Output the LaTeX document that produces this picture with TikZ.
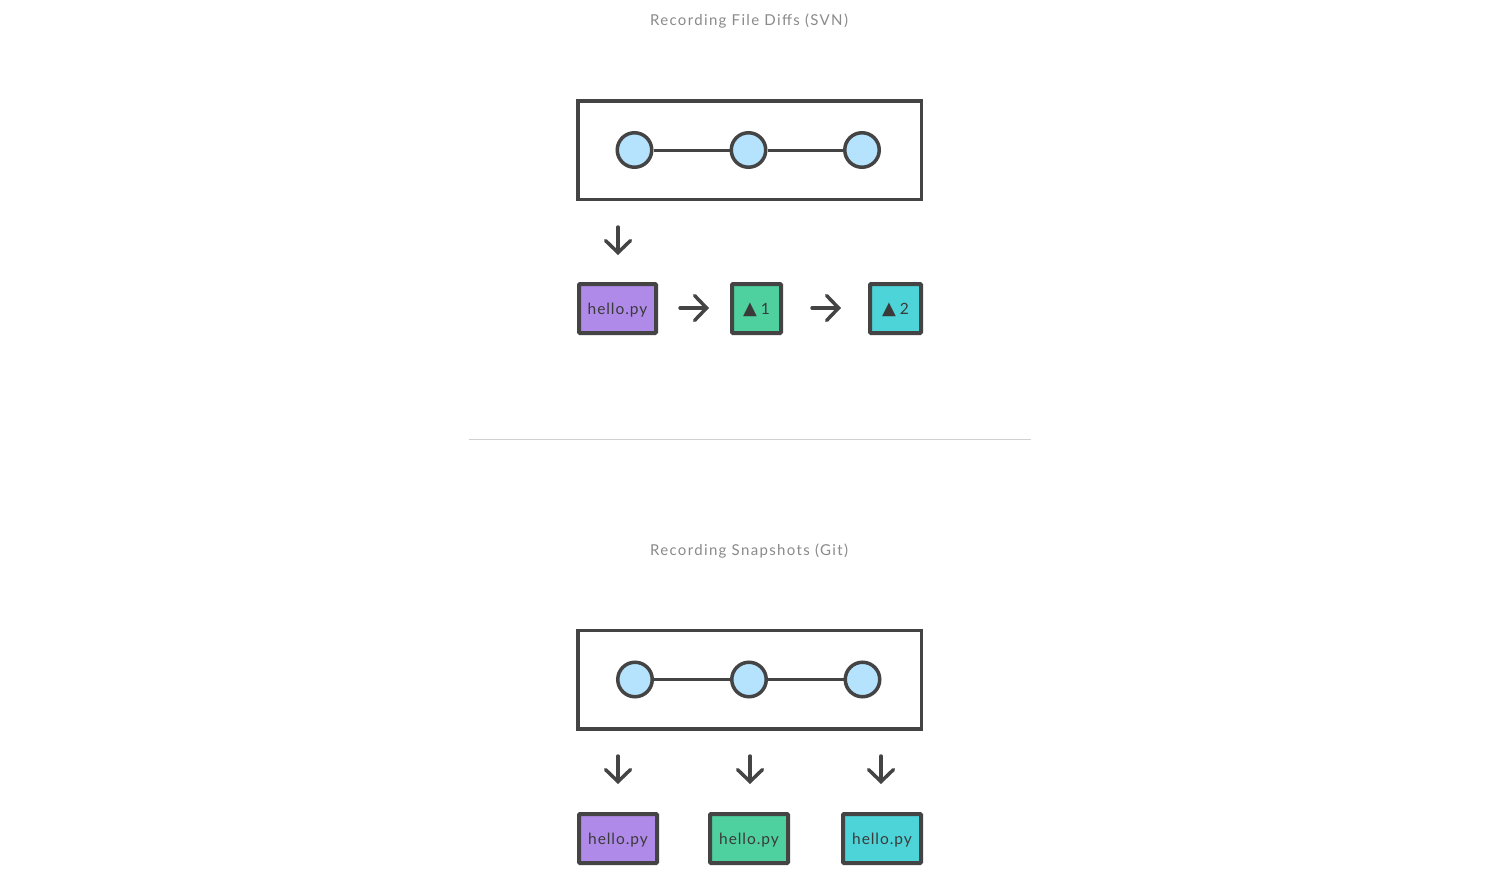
\documentclass[tikz,border=0pt]{standalone}
\usepackage{fontspec}
\setmainfont{Lato}[LetterSpace=6]
\newfontfamily\titlefont{Lato}[LetterSpace=9]
\newfontfamily\symfont{DejaVu Sans}
\usetikzlibrary{arrows.meta}
\definecolor{ink}{HTML}{444444}
\definecolor{txt}{HTML}{3A3A3A}
\definecolor{ttl}{HTML}{8A8A8A}
\definecolor{cpurple}{HTML}{B08AE8}
\definecolor{cgreen}{HTML}{4ED19E}
\definecolor{ccyan}{HTML}{4DD4D8}
\definecolor{cblue}{HTML}{B5E3FD}
\definecolor{sepc}{HTML}{D0D0D0}
\newcommand{\dlabel}[1]{{\symfont\fontsize{18}{20}\selectfont▲}\hspace{4pt}#1}
\tikzset{
  title/.style={text=ttl, font=\titlefont\fontsize{15}{17}\selectfont, inner sep=0},
  frame/.style={draw=ink, line width=3.5pt, fill=white, inner sep=0},
  commit/.style={circle, draw=ink, line width=3.5pt, fill=cblue, minimum size=34.5pt, inner sep=0},
  link/.style={draw=ink, line width=3pt},
  arr/.style={draw=ink, line width=3.5pt, -{Straight Barb[length=12pt,width=25pt,line cap=round]}, line cap=round},
  file/.style={draw=ink, line width=4pt, rounded corners=1pt, inner sep=0, text=txt, font=\fontsize{15.5}{17}\selectfont, minimum height=49pt, text height=11pt, text depth=0pt},
  sepline/.style={draw=sepc, line width=1pt}
}
\begin{document}
\begin{tikzpicture}[x=1pt,y=-1pt]
\useasboundingbox (0,0) rectangle (1500,883);
\fill[white] (0,0) rectangle (1500,883);

% ---- top section
\node[title] (t1) at (749,21) {Recording File Diffs (SVN)};
\node[frame, minimum width=343.5pt, minimum height=98.5pt] (b1) at (749.5,150) {};
\node[commit] (c11) at (634.5,150) {};
\node[commit] (c12) at (748.5,150) {};
\node[commit] (c13) at (862,150) {};
\draw[link] (c11) -- (c12);
\draw[link] (c12) -- (c13);

\coordinate (d1s) at (618,227);
\coordinate (d1e) at (618,255);
\draw[arr] (d1s) -- (d1e);

\node[file, fill=cpurple, minimum width=77pt] (f1) at (617.5,308.5) {hello.py};
\node[file, fill=cgreen, minimum width=49pt] (f2) at (756.5,308.5) {\dlabel{1}};
\node[file, fill=ccyan, minimum width=51pt] (f3) at (895.5,308.5) {\dlabel{2}};

\coordinate (h1s) at (680,308);
\coordinate (h1e) at (709,308);
\draw[arr] (h1s) -- (h1e);
\coordinate (h2s) at (812,308);
\coordinate (h2e) at (841,308);
\draw[arr] (h2s) -- (h2e);

% ---- separator
\coordinate (s1) at (469,439);
\coordinate (s2) at (1031,439);
\draw[sepline] (s1) -- (s2);

% ---- bottom section
\node[title] (t2) at (749,551) {Recording Snapshots (Git)};
\node[frame, minimum width=343.5pt, minimum height=98.5pt] (b2) at (749.5,679.5) {};
\node[commit] (c21) at (635,679.5) {};
\node[commit] (c22) at (749,679.5) {};
\node[commit] (c23) at (862.5,679.5) {};
\draw[link] (c21) -- (c22);
\draw[link] (c22) -- (c23);

\coordinate (d2s) at (618,756);
\coordinate (d2e) at (618,784);
\draw[arr] (d2s) -- (d2e);
\coordinate (d3s) at (750,756);
\coordinate (d3e) at (750,784);
\draw[arr] (d3s) -- (d3e);
\coordinate (d4s) at (881,756);
\coordinate (d4e) at (881,784);
\draw[arr] (d4s) -- (d4e);

\node[file, fill=cpurple, minimum width=78pt] (g1) at (618,838.5) {hello.py};
\node[file, fill=cgreen, minimum width=78pt] (g2) at (749,838.5) {hello.py};
\node[file, fill=ccyan, minimum width=78pt] (g3) at (882,838.5) {hello.py};
\end{tikzpicture}
\end{document}
